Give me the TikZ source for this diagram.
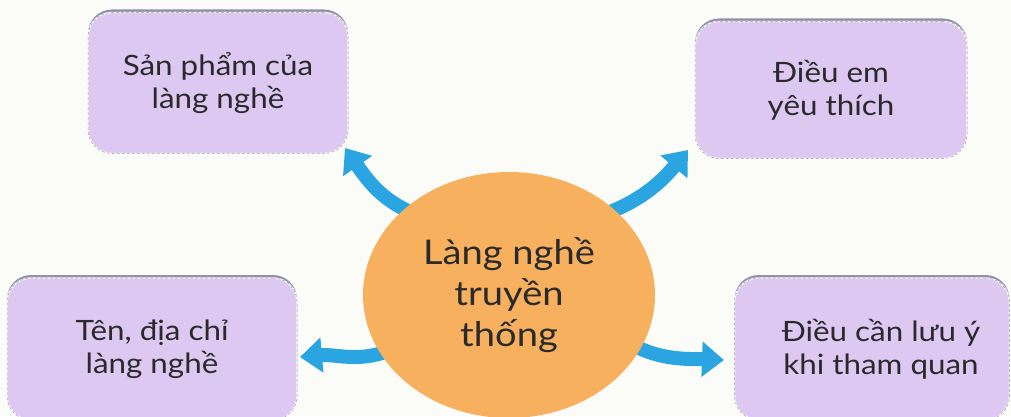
\documentclass[tikz,border=0pt]{standalone}
\usepackage{fontspec}
\setmainfont{Lato}[FakeStretch=1.12]
\usetikzlibrary{arrows.meta,shapes.geometric}
\definecolor{bg}{HTML}{FBFBF7}
\definecolor{boxfill}{HTML}{DDC8F2}
\definecolor{boxshadow}{HTML}{8F91AE}
\definecolor{hub}{HTML}{F6B05E}
\definecolor{arrowblue}{HTML}{2AA5E2}
\definecolor{txt}{HTML}{2A2A2A}
\tikzset{
  x=1pt,y=1pt,
  topicbox/.style={rectangle, rounded corners=24pt, fill=boxfill, draw=white, line width=1.4pt,
    postaction={draw=gray!80, densely dashed, line width=0.5pt},
    text=txt, align=center, font=\fontsize{28}{33}\selectfont, inner sep=0pt},
  shadowbox/.style={rectangle, rounded corners=24pt, fill=boxshadow, inner sep=0pt},
  hubnode/.style={ellipse, fill=hub, text=txt, align=center, inner sep=0pt,
    minimum width=292pt, minimum height=246pt, font=\fontsize{34}{41}\selectfont},
  flow/.style={arrowblue, line width=14pt, -{Triangle[width=34pt,length=22pt]}},
}
\begin{document}
\begin{tikzpicture}
\fill[bg] (0,0) rectangle (1011,416);
\useasboundingbox (0,0) rectangle (1011,416);
% shadows
\node[shadowbox, minimum width=260pt, minimum height=141pt] at (218,336) {};
\node[shadowbox, minimum width=272pt, minimum height=137pt] at (831,329) {};
\node[shadowbox, minimum width=290pt, minimum height=142pt] at (152,70) {};
\node[shadowbox, minimum width=275pt, minimum height=142pt] at (872,70) {};
% boxes
\node[topicbox, minimum width=260pt, minimum height=141pt] (tl) at (218,333) {Sản phẩm của\\làng nghề};
\node[topicbox, minimum width=272pt, minimum height=137pt] (tr) at (831,326) {Điều em\\yêu thích};
\node[topicbox, minimum width=290pt, minimum height=142pt] (bl) at (152,67) {Tên, địa chỉ\\làng nghề};
\node[topicbox, minimum width=275pt, minimum height=142pt] (br) at (872,67) {\hspace*{18pt}Điều cần lưu ý\\\hspace*{18pt}khi tham quan};
% connector end points
\coordinate (tlend) at (345,268);
\coordinate (trend) at (688,266);
\coordinate (blend) at (300,59);
\coordinate (brend) at (724,56);
\coordinate (tlstart) at (420,200);
\coordinate (trstart) at (600,200);
\coordinate (blstart) at (395,68);
\coordinate (brstart) at (625,75);
% arrows
\draw[flow] (tlstart) to[out=160,in=-55] (tlend);
\draw[flow] (trstart) to[out=20,in=-130] (trend);
\draw[flow] (blstart) to[out=205,in=5] (blend);
\draw[flow] (brstart) to[out=-30,in=178] (brend);
% hub
\node[hubnode] (hub) at (509,121) {Làng nghề\\truyền\\thống};
\end{tikzpicture}
\end{document}
